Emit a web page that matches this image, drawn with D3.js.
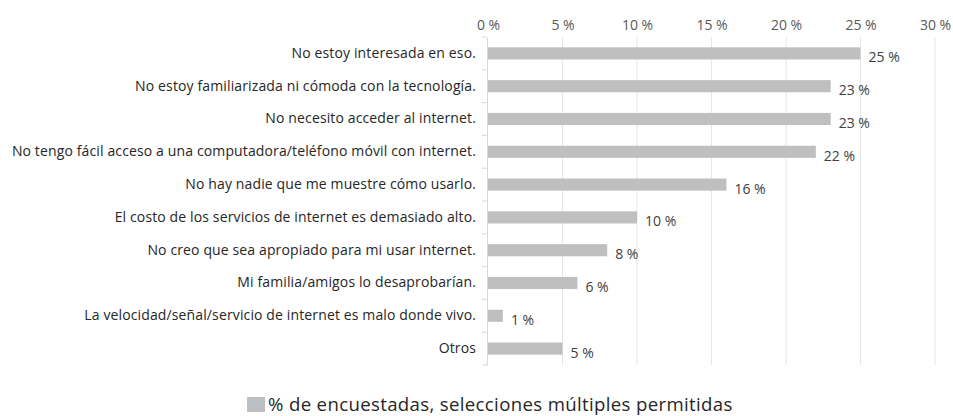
<!DOCTYPE html>
<html>
<head>
<meta charset="utf-8">
<script src="https://cdn.jsdelivr.net/npm/d3@7"></script>
<style>
  html, body { margin: 0; padding: 0; background: #fff; }
  svg { display: block; font-family: "Open Sans", Lato, sans-serif; }
</style>
</head>
<body>
<svg id="chart" width="953" height="416"></svg>
<script>
// Reasons for not using the internet (% of respondents, multiple answers allowed)
const categories = [
  "No estoy interesada en eso.",
  "No estoy familiarizada ni cómoda con la tecnología.",
  "No necesito acceder al internet.",
  "No tengo fácil acceso a una computadora/teléfono móvil con internet.",
  "No hay nadie que me muestre cómo usarlo.",
  "El costo de los servicios de internet es demasiado alto.",
  "No creo que sea apropiado para mi usar internet.",
  "Mi familia/amigos lo desaprobarían.",
  "La velocidad/señal/servicio de internet es malo donde vivo.",
  "Otros"
];
const values = [25, 23, 23, 22, 16, 10, 8, 6, 1, 5];
const tickValues = [0, 5, 10, 15, 20, 25, 30];
const seriesName = "% de encuestadas, selecciones múltiples permitidas";

const svg = d3.select("#chart");
const margin = { left: 487, right: 18, top: 37, bottom: 51 };
const W = 953, H = 416;
const FONT = "'Open Sans', Lato, sans-serif";

const x = d3.scaleLinear().domain([0, 30]).range([margin.left + 1, 935]);
const y = d3.scaleBand().domain(categories).range([margin.top, H - margin.bottom]).paddingInner(0.63).paddingOuter(0.315);

const pct = v => v + " %";

// vertical gridlines
svg.append("g")
  .selectAll("line")
  .data(tickValues.slice(1))
  .join("line")
  .attr("x1", d => x(d)).attr("x2", d => x(d))
  .attr("y1", margin.top).attr("y2", H - margin.bottom)
  .attr("stroke", "#e6e6e6").attr("stroke-width", 1);

// top axis labels
const xAxis = svg.append("g")
  .attr("transform", `translate(0,${margin.top - 7})`)
  .call(d3.axisTop(x).tickValues(tickValues).tickFormat(pct).tickSize(0).tickPadding(0));
xAxis.select(".domain").remove();
xAxis.selectAll("text").attr("font-size", 14).attr("fill", "#595959").attr("font-family", FONT);

// left axis with category labels
const yAxis = svg.append("g")
  .attr("transform", `translate(${margin.left},0)`)
  .call(d3.axisLeft(y).tickSize(0).tickPadding(11));
yAxis.select(".domain").attr("stroke", "#d9d9d9");
yAxis.selectAll("text").attr("font-size", 14).attr("letter-spacing", 0.13).attr("fill", "#262626").attr("font-family", FONT);

// small outer ticks between categories
const step = y.step();
svg.append("g")
  .selectAll("line")
  .data(d3.range(categories.length + 1))
  .join("line")
  .attr("x1", margin.left - 5).attr("x2", margin.left)
  .attr("y1", i => margin.top + i * step).attr("y2", i => margin.top + i * step)
  .attr("stroke", "#d9d9d9");

// bars
svg.append("g")
  .selectAll("rect")
  .data(values)
  .join("rect")
  .attr("x", x(0))
  .attr("y", (d, i) => y(categories[i]))
  .attr("width", d => x(d) - x(0))
  .attr("height", y.bandwidth())
  .attr("fill", "#bfbfbf");

// value labels
svg.append("g")
  .selectAll("text")
  .data(values)
  .join("text")
  .attr("x", d => x(d) + 8)
  .attr("y", (d, i) => y(categories[i]) + y.bandwidth() / 2 + 4)
  .attr("dy", "0.35em")
  .attr("font-size", 14)
  .attr("fill", "#404040")
  .text(d => pct(d));

// legend
const lg = svg.append("g").attr("transform", "translate(247,397)");
lg.append("rect").attr("width", 18).attr("height", 15).attr("fill", "#bcc0c4");
lg.append("text").attr("x", 21).attr("y", 14).attr("font-size", 18.6).attr("letter-spacing", 0.35).attr("fill", "#262626").text(seriesName);
</script>
</body>
</html>
